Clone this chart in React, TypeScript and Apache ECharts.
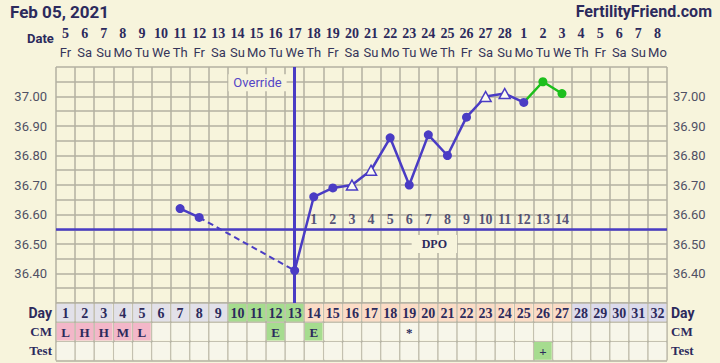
import React, { useEffect, useRef } from 'react';
import * as echarts from 'echarts';

const dayNumbers = ['1','2','3','4','5','6','7','8','9','10','11','12','13','14','15','16','17','18','19','20','21','22','23','24','25','26','27','28','29','30','31','32'];
const dates = ['5','6','7','8','9','10','11','12','13','14','15','16','17','18','19','20','21','22','23','24','25','26','27','28','1','2','3','4','5','6','7','8'];
const weekdays = ['Fr','Sa','Su','Mo','Tu','We','Th','Fr','Sa','Su','Mo','Tu','We','Th','Fr','Sa','Su','Mo','Tu','We','Th','Fr','Sa','Su','Mo','Tu','We','Th','Fr','Sa','Su','Mo'];
const temps: (number | null)[] = [null, null, null, null, null, null, 36.62, 36.59, null, null, null, null, 36.41, 36.66, 36.69, 36.70, 36.75, 36.86, 36.70, 36.87, 36.80, 36.93, 37.00, 37.01, 36.98, 37.05, 37.01, null, null, null, null, null];
const openTriangleDays = [16, 17, 23, 24];
const greenDays = [26, 27];
const greenFromDay = 25;
const dashedGap = [8, 13];
const coverline = 36.55;
const overrideDay = 13;
const dpoStartDay = 14;
const dpoLabels = ['1','2','3','4','5','6','7','8','9','10','11','12','13','14'];
const yTickLabels = ['36.40','36.50','36.60','36.70','36.80','36.90','37.00'];
const cmValues = ['L','H','H','M','L','','','','','','','E','','E','','','','','*','','','','','','','','','','','','',''];
const testValues = ['','','','','','','','','','','','','','','','','','','','','','','','','','+','','','','','',''];
const fertileDays = [10, 11, 12, 13];
const lutealDays = [14, 27];
const cmGreen = ['E'];
const testGreen = ['+'];
const tableRows = ['Day', 'CM', 'Test'];

const BG = '#f7f4dc';
const GRID = '#b3b1a2';
const BLUE = '#4a3cc4';
const GREEN = '#1cbf1c';
const NAVY = '#2c2a5c';
const SERIF = '"Liberation Serif", serif';
const SANS = 'Roboto, sans-serif';

export default function App() {
  const ref = useRef<HTMLDivElement>(null);
  useEffect(() => {
    const chart = echarts.init(ref.current!, undefined, { renderer: 'svg' });

    const blueData = temps.map((t, i) => {
      const d = i + 1;
      if (t == null || greenDays.includes(d)) return '-';
      if (openTriangleDays.includes(d)) {
        return { value: t, symbol: 'triangle', symbolSize: [11, 10], itemStyle: { color: '#fbfaf0', borderColor: BLUE, borderWidth: 1.5 } };
      }
      return t;
    });
    const greenData = temps.map((t, i) => {
      const d = i + 1;
      if (t == null || d < greenFromDay) return '-';
      if (d === greenFromDay) return { value: t, symbol: 'none' };
      return t;
    });
    const dashedData = temps.map((t, i) => (dashedGap.includes(i + 1) ? t : '-'));
    const dpoData = dpoLabels.map((l, k) => [dpoStartDay - 1 + k, coverline]);

    const cells: { x: number; y: number; text: string; fill: string }[] = [];
    dayNumbers.forEach((d, i) => {
      const day = i + 1;
      let fill = '#e2e1e9';
      if (fertileDays.includes(day)) fill = '#a6dc8f';
      else if (day >= lutealDays[0] && day <= lutealDays[1]) fill = '#fbdcc6';
      else if (day > lutealDays[1]) fill = '#dcdbec';
      cells.push({ x: i, y: 0, text: d, fill });
    });
    cmValues.forEach((v, i) => {
      let fill = '#f7f6ea';
      if (cmGreen.includes(v)) fill = '#a6dc8f';
      else if (v && v !== '*') fill = '#f3b7c9';
      cells.push({ x: i, y: 1, text: v, fill });
    });
    testValues.forEach((v, i) => {
      cells.push({ x: i, y: 2, text: v, fill: testGreen.includes(v) ? '#a6dc8f' : '#f7f6ea' });
    });

    const tempLabel = (v: number) => {
      const s = v.toFixed(2);
      return yTickLabels.includes(s) ? s : '';
    };

    const option: any = {
      animation: false,
      backgroundColor: BG,
      title: [
        { text: 'Feb 05, 2021', left: 10, top: 3, padding: 0, textStyle: { fontFamily: SANS, fontWeight: 'bold', fontSize: 17, color: NAVY } },
        { text: 'FertilityFriend.com', right: 8, top: 3, padding: 0, textStyle: { fontFamily: SANS, fontWeight: 'bold', fontSize: 16, color: NAVY } },
        { text: 'Date', left: 27, top: 32, padding: 0, textStyle: { fontFamily: SANS, fontWeight: 'bold', fontSize: 13, color: NAVY } },
      ],
      grid: [
        { left: 56, right: 53, top: 67, height: 236 },
        { left: 56, right: 53, top: 303, bottom: 2.5 },
      ],
      xAxis: [
        { type: 'category', gridIndex: 0, data: dayNumbers, boundaryGap: true, position: 'bottom',
          axisLabel: { show: false }, axisLine: { show: false }, axisTick: { show: false },
          splitLine: { show: true, interval: 0, lineStyle: { color: GRID, width: 1.5 } } },
        { type: 'category', gridIndex: 0, data: dayNumbers, boundaryGap: true, position: 'top',
          axisLine: { show: false }, axisTick: { show: false }, splitLine: { show: false },
          axisLabel: { interval: 0, margin: 5,
            formatter: (_v: string, idx: number) => `{d|${dates[idx]}}\n{w|${weekdays[idx]}}`,
            rich: {
              d: { fontFamily: SERIF, fontWeight: 'bold', fontSize: 14, color: NAVY, lineHeight: 19 },
              w: { fontFamily: SANS, fontSize: 13, color: '#35355a', lineHeight: 19 },
            } } },
        { type: 'category', gridIndex: 1, data: dayNumbers, boundaryGap: true,
          axisLabel: { show: false }, axisLine: { show: false }, axisTick: { show: false },
          splitLine: { show: true, interval: 0, lineStyle: { color: GRID, width: 1.5 } } },
      ],
      yAxis: [
        { type: 'value', gridIndex: 0, min: 36.3, max: 37.1, interval: 0.05, position: 'left',
          axisLine: { show: false }, axisTick: { show: false },
          axisLabel: { margin: 9, formatter: tempLabel, fontFamily: SANS, fontSize: 13, color: '#505064' },
          splitLine: { show: true, lineStyle: { color: GRID, width: 1.5 } } },
        { type: 'value', gridIndex: 0, min: 36.3, max: 37.1, interval: 0.05, position: 'right',
          axisLine: { show: false }, axisTick: { show: false }, splitLine: { show: false },
          axisLabel: { margin: 6, formatter: tempLabel, fontFamily: SANS, fontSize: 13, color: '#505064' } },
        { type: 'category', gridIndex: 1, data: tableRows, inverse: true, position: 'left',
          axisLine: { show: false }, axisTick: { show: false },
          splitLine: { show: true, interval: 0, lineStyle: { color: GRID, width: 1.5 } },
          axisLabel: { margin: 4, interval: 0, formatter: (v: string) => (v === 'Day' ? `{s|${v}}` : `{f|${v}}`),
            rich: { s: { fontFamily: SANS, fontWeight: 'bold', fontSize: 14, color: NAVY }, f: { fontFamily: SERIF, fontWeight: 'bold', fontSize: 13, color: NAVY } } } },
        { type: 'category', gridIndex: 1, data: tableRows, inverse: true, position: 'right',
          axisLine: { show: false }, axisTick: { show: false }, splitLine: { show: false },
          axisLabel: { margin: 4, interval: 0, align: 'left', formatter: (v: string) => (v === 'Day' ? `{s|${v}}` : `{f|${v}}`),
            rich: { s: { fontFamily: SANS, fontWeight: 'bold', fontSize: 14, color: NAVY }, f: { fontFamily: SERIF, fontWeight: 'bold', fontSize: 13, color: NAVY } } } },
      ],
      series: [
        { type: 'custom', xAxisIndex: 2, yAxisIndex: 2, silent: true,
          data: cells.map((c) => [c.x, c.y]),
          renderItem: (params: any, api: any) => {
            const cell = cells[params.dataIndex];
            const p = api.coord([api.value(0), api.value(1)]);
            const s = api.size([1, 1]);
            return { type: 'group', children: [
              { type: 'rect', shape: { x: p[0] - s[0] / 2 + 0.75, y: p[1] - s[1] / 2 + 0.75, width: s[0] - 1.5, height: s[1] - 1.5 }, style: { fill: cell.fill } },
              { type: 'text', x: p[0], y: p[1] + 0.5, style: { text: cell.text, fill: NAVY, align: 'center', verticalAlign: 'middle', fontFamily: SERIF, fontWeight: 'bold', fontSize: cell.y === 0 ? 14 : 13 } },
            ] };
          } },
        { type: 'line', xAxisIndex: 0, yAxisIndex: 0, data: dashedData, connectNulls: true, symbol: 'none',
          lineStyle: { color: BLUE, width: 2, type: [6, 4] } },
        { type: 'line', xAxisIndex: 0, yAxisIndex: 0, data: greenData, symbol: 'circle', symbolSize: 9,
          itemStyle: { color: GREEN }, lineStyle: { color: GREEN, width: 2.5 } },
        { type: 'line', xAxisIndex: 0, yAxisIndex: 0, data: blueData, symbol: 'circle', symbolSize: 9,
          itemStyle: { color: BLUE }, lineStyle: { color: BLUE, width: 2.5 },
          markLine: { silent: true, symbol: 'none', label: { show: false },
            data: [
              { yAxis: coverline, lineStyle: { color: BLUE, width: 2.5, type: 'solid' } },
              { xAxis: overrideDay - 1, lineStyle: { color: BLUE, width: 3, type: 'solid' } },
            ] } },
        { type: 'scatter', xAxisIndex: 0, yAxisIndex: 0, data: dpoData, symbolSize: 0, silent: true,
          label: { show: true, position: 'top', distance: 3, formatter: (p: any) => dpoLabels[p.dataIndex],
            fontFamily: SERIF, fontWeight: 'bold', fontSize: 14, color: NAVY },
          markPoint: { silent: true, symbol: 'rect', symbolSize: 0,
            data: [
              { coord: [overrideDay - 3, 37.05], label: { show: true, formatter: 'Override', offset: [1, 1], backgroundColor: BG, padding: [2, 5],
                fontFamily: SANS, fontSize: 13, color: '#5446c6' } },
              { coord: [19, 36.5], label: { show: true, formatter: 'DPO', offset: [6, 0], backgroundColor: BG, padding: [3, 10],
                fontFamily: SERIF, fontWeight: 'bold', fontSize: 12, color: NAVY } },
            ] } },
      ],
    };
    chart.setOption(option);
    return () => chart.dispose();
  }, []);
  return <div ref={ref} style={{ position: 'fixed', left: 0, top: 0, width: 720, height: 363 }} />;
}
